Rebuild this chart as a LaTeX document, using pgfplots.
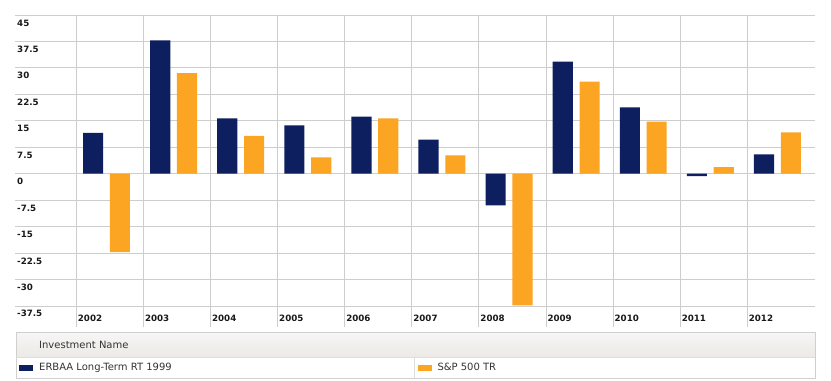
\documentclass[border=0pt]{standalone}
\usepackage{pgfplots}
\pgfplotsset{compat=1.18}
\usepackage{fontspec}
\setmainfont{DejaVu Sans}
\definecolor{navy}{HTML}{0D1F5E}
\definecolor{amber}{HTML}{FBA523}
\definecolor{gridc}{HTML}{CDCDCD}
\definecolor{legb}{HTML}{CFCFCF}
\definecolor{txt}{HTML}{333333}
\definecolor{hdtop}{HTML}{F7F6F4}
\definecolor{hdbot}{HTML}{ECE9E6}
\begin{document}
\begin{tikzpicture}[x=1bp,y=1bp]
\path (0,0) rectangle (831,380);
\begin{axis}[
  at={(15bp,53bp)}, anchor=south west,
  width=800bp, height=312bp, scale only axis,
  xmin=-1.414, xmax=10.51, ymin=-43.46, ymax=45,
  axis line style={draw=none},
  major tick length=0pt,
  xtick={-0.5,0.5,1.5,2.5,3.5,4.5,5.5,6.5,7.5,8.5,9.5},
  xticklabels={2002,2003,2004,2005,2006,2007,2008,2009,2010,2011,2012},
  ytick={-37.5,-30,-22.5,-15,-7.5,0,7.5,15,22.5,30,37.5,45},
  yticklabels={-37.5,-30,-22.5,-15,-7.5,0,7.5,15,22.5,30,37.5,45},
  grid=major,
  grid style={gridc, line width=0.9bp},
  xticklabel style={anchor=base west, inner sep=0pt, xshift=1.4bp, yshift=6bp,
    font=\fontsize{8.7bp}{10bp}\selectfont\bfseries, text=black!90},
  yticklabel style={anchor=base west, inner sep=0pt, xshift=2bp, yshift=-11bp,
    font=\fontsize{8.7bp}{10bp}\selectfont\bfseries, text=black!90},
  ybar, bar width=0.3,
]
\addplot[fill=navy, draw=none, bar shift=-0.25] coordinates {
  (0,11.6) (1,37.8) (2,15.7) (3,13.7) (4,16.2) (5,9.7)
  (6,-9.0) (7,31.8) (8,18.8) (9,-0.7) (10,5.5)};
\addplot[fill=amber, draw=none, bar shift=0.15] coordinates {
  (0,-22.2) (1,28.5) (2,10.7) (3,4.6) (4,15.7) (5,5.2)
  (6,-37.3) (7,26.1) (8,14.8) (9,1.9) (10,11.7)};
\end{axis}
% legend table
\fill[top color=hdtop, bottom color=hdbot] (16.5,47.5) rectangle (814.5,23);
\draw[legb, line width=0.9bp] (16,48) rectangle (815,2);
\draw[legb!70, line width=0.9bp] (16,23) -- (815,23);
\draw[legb!70, line width=0.9bp] (414,23) -- (414,2);
\fill[navy] (19,8.7) rectangle (33,15.3);
\fill[amber] (418,8.7) rectangle (432,15.3);
\begin{scope}[every node/.style={anchor=base west, inner sep=0pt, text=txt,
    font=\fontsize{10bp}{12bp}\selectfont}]
\node at (39,31.7) {Investment Name};
\node at (39,9.3) {ERBAA Long-Term RT 1999};
\node at (437.3,9.3) {S\&P 500 TR};
\end{scope}
\end{tikzpicture}
\end{document}
